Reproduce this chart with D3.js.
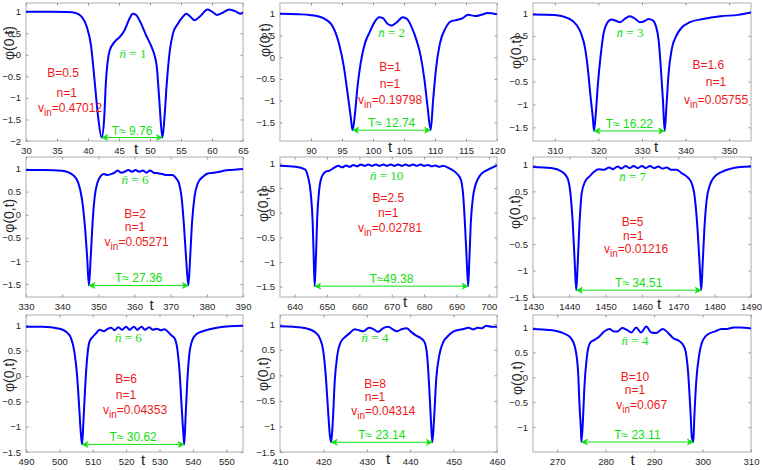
<!DOCTYPE html>
<html>
<head>
<meta charset="utf-8">
<script src="https://cdn.jsdelivr.net/npm/d3@7"></script>
<style>
body { margin: 0; background: #fff; }
text { font-family: "Liberation Sans", Arial, Helvetica, sans-serif; }
</style>
</head>
<body>
<script>
// phi(0,t), left to right, top to bottom
var t1 = [30, 34, 36.5, 38, 39, 39.8, 40.5, 41, 41.6, 42.2, 42.6, 42.9, 43.5, 44.3, 45.1, 45.9, 46.7, 47.2, 47.7, 48.6,
          49.4, 50.2, 50.7, 51.1, 51.5, 52.0, 52.3, 52.7, 53.2, 53.7, 54.5, 55.3, 55.85, 56.4, 57.2, 58, 59.3, 60.2, 60.8, 61.8,
          62.8, 63.9, 64.6, 65];
var phi1 = [1.0, 1.0, 0.99, 0.97, 0.88, 0.65, 0.2, -0.5, -1.4, -1.92, -1.5, -0.6, 0.1, 0.3, 0.41, 0.57, 0.84, 0.95, 0.93, 0.71,
            0.44, 0.2, 0.0, -0.28, -1.05, -1.92, -1.52, -0.67, 0.1, 0.49, 0.72, 0.88, 0.95, 0.9, 0.8, 0.88, 1.05, 0.98, 0.92, 0.98,
            1.05, 1.0, 0.95, 0.98];

var t2 = [85, 88, 90, 92, 93.5, 94.5, 95.3, 95.9, 96.4, 96.7, 97.1, 97.5, 98, 98.7, 99.5, 100.3, 101, 101.6, 102.3, 103,
          103.8, 104.8, 105.5, 106.3, 107, 107.7, 108.3, 108.8, 109.3, 109.7, 110.2, 110.8, 111.7, 112.5, 113.5, 114.5, 115.3, 116.5, 117.5, 118.5,
          120];
var phi2 = [1.0, 0.99, 0.97, 0.9, 0.71, 0.32, -0.22, -0.83, -1.37, -1.68, -1.29, -0.68, -0.14, 0.32, 0.59, 0.82, 0.92, 0.9, 0.78, 0.73,
            0.8, 0.92, 0.88, 0.67, 0.4, 0.02, -0.52, -1.14, -1.68, -0.98, -0.22, 0.32, 0.67, 0.82, 0.86, 0.9, 0.98, 0.95, 0.98, 1.02,
            0.99];

var t3 = [305, 310, 313, 315, 316, 317, 317.6, 318.2, 318.7, 319, 319.4, 319.9, 320.5, 321.2, 322, 323, 324, 325, 326, 327.2,
          328.5, 329.5, 330.5, 331.5, 332.5, 333.2, 333.8, 334.3, 334.8, 335.2, 335.6, 336.1, 336.8, 337.8, 339, 341, 344, 348, 352, 355];
var phi3 = [0.97, 0.96, 0.89, 0.74, 0.56, 0.2, -0.24, -0.83, -1.27, -1.58, -1.2, -0.54, 0.05, 0.56, 0.78, 0.86, 0.83, 0.8, 0.87, 0.93,
            0.87, 0.8, 0.82, 0.87, 0.84, 0.71, 0.42, -0.17, -0.9, -1.58, -1.05, -0.32, 0.2, 0.49, 0.67, 0.8, 0.87, 0.93, 0.96, 1.01];

var t4 = [330, 335, 340, 343, 344.5, 345.5, 346.3, 346.9, 347.4, 347.9, 348.4, 349, 349.7, 350.6, 351.5, 352.5, 353.5, 354.5, 355.3, 356.3,
          357.3, 358.3, 359.3, 360.3, 361.3, 362.3, 363.3, 364.3, 365.3, 366.5, 367.7, 369, 370.5, 371.5, 372.3, 373, 373.7, 374.3, 374.9, 375.4,
          375.9, 376.6, 377.5, 379, 380.5, 382, 383.5, 385, 387, 390];
var phi4 = [0.97, 0.97, 0.95, 0.86, 0.68, 0.32, -0.26, -0.91, -1.53, -0.91, -0.18, 0.39, 0.68, 0.83, 0.88, 0.86, 0.88, 0.91, 0.96, 0.91,
            0.93, 0.97, 0.93, 0.97, 0.93, 0.96, 0.91, 0.96, 0.91, 0.9, 0.88, 0.86, 0.86, 0.79, 0.68, 0.39, -0.26, -0.98, -1.53, -0.91,
            -0.18, 0.39, 0.68, 0.83, 0.9, 0.91, 0.93, 0.96, 0.97, 0.99];

var t5 = [635.5, 640.3, 643.2, 644.1, 645.0, 645.6, 645.9, 646.2, 646.6, 647.0, 647.6, 648.4, 649.5, 651.0, 652.4, 653.6, 654.7, 655.9, 657.0, 658.2,
          659.3, 660.5, 661.6, 662.8, 663.9, 665.1, 666.2, 667.4, 668.5, 669.7, 670.8, 672.0, 673.1, 674.3, 675.4, 676.6, 677.7, 678.9, 680.0, 681.2,
          682.3, 683.5, 684.6, 685.8, 687.5, 689.1, 690.3, 691.4, 692.1, 692.7, 693.2, 693.6, 694.0, 694.4, 695.1, 696.0, 697.3, 699.3, 701.2, 702.5];
var phi5 = [0.95, 0.93, 0.88, 0.74, 0.39, -0.22, -0.89, -1.49, -0.89, -0.08, 0.46, 0.73, 0.83, 0.86, 0.92, 0.95, 0.92, 0.96, 0.93, 0.97,
            0.94, 0.98, 0.95, 0.98, 0.95, 0.98, 0.95, 0.98, 0.95, 0.98, 0.95, 0.98, 0.95, 0.98, 0.95, 0.98, 0.95, 0.98, 0.95, 0.97,
            0.94, 0.96, 0.93, 0.95, 0.91, 0.85, 0.78, 0.66, 0.32, -0.35, -1.03, -1.49, -0.89, -0.22, 0.32, 0.59, 0.76, 0.86, 0.92, 0.96];

var t6 = [1430, 1435, 1438, 1439.5, 1440.3, 1441, 1441.5, 1441.9, 1442.3, 1442.8, 1443.4, 1444.3, 1445.5, 1446.8, 1448, 1449.5, 1451, 1452, 1453.3, 1454.3,
          1455.5, 1456.6, 1457.7, 1458.8, 1460, 1461, 1462.2, 1463.3, 1464.5, 1465.6, 1466.8, 1468, 1469.5, 1471, 1472.5, 1473.5, 1474.5, 1475.3, 1475.9, 1476.3,
          1476.7, 1477.2, 1477.8, 1478.7, 1480, 1482, 1484, 1487, 1490];
var phi6 = [0.96, 0.94, 0.87, 0.75, 0.46, -0.17, -0.87, -1.37, -0.87, -0.11, 0.46, 0.68, 0.78, 0.87, 0.92, 0.91, 0.95, 0.92, 0.97, 0.93,
            0.98, 0.94, 0.98, 0.94, 0.98, 0.94, 0.98, 0.94, 0.97, 0.93, 0.95, 0.91, 0.91, 0.84, 0.77, 0.68, 0.4, -0.23, -0.93, -1.37,
            -0.87, -0.17, 0.34, 0.62, 0.78, 0.87, 0.92, 0.96, 0.97];

var t7 = [490, 495, 500, 502, 503.5, 504.5, 505.3, 505.9, 506.4, 506.8, 507.2, 507.7, 508.3, 509, 510, 511, 512, 513.3, 514.3, 515.5,
          516.5, 517.7, 518.7, 520, 521, 522.3, 523.3, 524.6, 525.6, 526.9, 528, 529.2, 530.3, 531.5, 532.5, 533.5, 534.5, 535.3, 536, 536.6,
          537.1, 537.4, 537.8, 538.3, 538.9, 539.8, 541, 543, 545, 548, 551, 555];
var phi7 = [0.97, 0.97, 0.93, 0.87, 0.74, 0.47, 0.01, -0.58, -1.11, -1.35, -0.9, -0.25, 0.34, 0.67, 0.77, 0.84, 0.91, 0.88, 0.92, 0.95,
            0.9, 0.96, 0.91, 0.97, 0.91, 0.97, 0.91, 0.97, 0.91, 0.96, 0.91, 0.93, 0.9, 0.92, 0.87, 0.8, 0.74, 0.54, 0.08, -0.58,
            -1.11, -1.35, -0.81, -0.12, 0.41, 0.7, 0.82, 0.88, 0.92, 0.96, 0.98, 0.99];

var t8 = [410, 413, 416, 418, 419.2, 420, 420.6, 421.1, 421.5, 421.8, 422.2, 422.6, 423.2, 424, 425, 426, 427.2, 428.2, 429.2, 430.5,
          431.6, 432.6, 433.7, 434.9, 436, 436.9, 438, 439.2, 440.2, 441.3, 442.4, 443.3, 443.9, 444.4, 444.8, 445.1, 445.5, 446, 446.7, 447.6,
          448.5, 450, 452, 453.5, 454.5, 455.5, 456.5, 457.5, 458.7, 460];
var phi8 = [0.96, 0.95, 0.92, 0.85, 0.72, 0.46, -0.07, -0.72, -1.18, -1.31, -0.85, -0.13, 0.39, 0.65, 0.75, 0.82, 0.9, 0.88, 0.86, 0.93,
            0.9, 0.85, 0.92, 0.95, 0.9, 0.86, 0.9, 0.92, 0.85, 0.78, 0.73, 0.65, 0.39, -0.26, -0.92, -1.31, -0.85, -0.07, 0.39, 0.65,
            0.75, 0.86, 0.9, 0.93, 0.9, 0.93, 0.92, 0.97, 0.95, 0.95];

var t9 = [265, 268.3, 271.1, 272.8, 273.7, 274.3, 274.6, 274.9, 275.0, 275.3, 275.6, 276.1, 276.8, 277.7, 278.7, 279.7, 280.8, 281.7, 282.5, 283.4,
          284.4, 285.3, 286.3, 287.3, 288.4, 289.4, 290.4, 291.8, 292.9, 293.9, 295.3, 296.3, 297, 297.5, 297.8, 298.1, 298.3, 298.7, 299.3, 300.1,
          301.2, 302.6, 303.9, 305, 306.4, 307.7, 310];
var phi9 = [0.97, 0.95, 0.89, 0.79, 0.59, 0.12, -0.55, -1.08, -1.3, -0.88, -0.21, 0.39, 0.69, 0.75, 0.82, 0.92, 0.97, 0.92, 0.92, 0.99,
            0.95, 0.9, 1.0, 0.9, 1.02, 0.9, 0.89, 0.97, 0.89, 0.79, 0.72, 0.59, 0.12, -0.68, -1.21, -1.3, -0.81, -0.08, 0.45, 0.75,
            0.87, 0.92, 0.97, 0.97, 1.0, 1.0, 0.98];

var tSeries = [t1, t2, t3, t4, t5, t6, t7, t8, t9];
var phiSeries = [phi1, phi2, phi3, phi4, phi5, phi6, phi7, phi8, phi9];

// axis limits and tick labels
var tRange = [[30, 65], [85, 120], [305, 355], [330, 390], [635.5, 702.5], [1430, 1490], [490, 555], [410, 460], [265, 310]];
var phiRange = [[-2, 1.2], [-1.93, 1.25], [-1.8, 1.22], [-1.78, 1.25], [-1.71, 1.13], [-1.5, 1.15], [-1.5, 1.2], [-1.5, 1.18], [-1.5, 1.25]];
var tTicks = [[30, 35, 40, 45, 50, 55, 60, 65], [90, 95, 100, 105, 110, 115, 120], [310, 320, 330, 340, 350],
              [330, 340, 350, 360, 370, 380, 390], [640, 650, 660, 670, 680, 690, 700], [1430, 1440, 1450, 1460, 1470, 1480, 1490],
              [490, 500, 510, 520, 530, 540, 550], [410, 420, 430, 440, 450, 460], [270, 280, 290, 300, 310]];
var phiTicksA = [-2, -1.5, -1, -0.5, 0, 0.5, 1];
var phiTicksB = [-1.5, -1, -0.5, 0, 0.5, 1];
var phiTicksC = [-1, -0.5, 0, 0.5, 1];
var phiTicks = [phiTicksA, phiTicksB, phiTicksB, phiTicksB, phiTicksB, phiTicksB, phiTicksB, phiTicksB, phiTicksC];

// annotations
var bVals = ['0.5', '1', '1.6', '2', '2.5', '5', '6', '8', '10'];
var nVals = [1, 1, 1, 1, 1, 1, 1, 1, 1];
var vinVals = ['0.47012', '0.19798', '0.05755', '0.05271', '0.02781', '0.01216', '0.04353', '0.04314', '0.067'];
var nbarVals = [1, 2, 3, 6, 10, 7, 6, 4, 4];
var periodLabels = ['T\u2248 9.76', 'T\u2248 12.74', 'T\u2248 16.22', 'T\u2248 27.36', 'T\u224849.38',
                    'T\u2248 34.51', 'T\u2248 30.62', 'T\u2248 23.14', 'T\u2248 23.11'];

// page layout (pixels)
var W = 762, H = 470;
var cols = [[26, 243], [280, 497], [533, 751]];
var rows = [[3, 141], [157, 297], [315, 452]];
// offsets from panel left/top: red lines, n-bar label, ylabel; xlabel is from left/bottom
var place = [
  { red: [[37, 70], [40.7, 89.7], [44, 105]], nbar: [107, 50], ylab: [-16.7, 40], xlab: [110, 8] },
  { red: [[110, 63.7], [110, 80.3], [110, 97]], nbar: [111.7, 29.7], ylab: [-15, 37], xlab: [110, 5.7] },
  { red: [[175.3, 62], [183, 78.7], [183, 96.3]], nbar: [97, 29.7], ylab: [-17, 49], xlab: [123, 5.7] },
  { red: [[109, 56.3], [109, 69.7], [110.7, 84.7]], nbar: [109, 22.3], ylab: [-16.7, 58.7], xlab: [125.7, 8] },
  { red: [[108.3, 40.7], [108.3, 55.7], [110, 70.7]], nbar: [106.7, 18], ylab: [-17.3, 48], xlab: [125, 4.7] },
  { red: [[99.7, 64.7], [100.3, 79], [103, 92]], nbar: [99.7, 19.7], ylab: [-18, 55], xlab: [126, 7] },
  { red: [[100, 64], [100, 79.3], [109, 95]], nbar: [102.3, 22.3], ylab: [-16.7, 60], xlab: [117, 8] },
  { red: [[95, 69], [95, 81.7], [103.3, 96]], nbar: [95, 22.3], ylab: [-17.3, 59], xlab: [108, 7] },
  { red: [[102, 61.7], [102, 75], [108.7, 90]], nbar: [102, 25], ylab: [-16.3, 63], xlab: [99.7, 8] }
];

var green = '#11e011', red = '#f01818', boxColor = '#9a9a9a', tickText = '#262626';

var svg = d3.select('body').append('svg')
    .attr('width', W).attr('height', H)
    .style('background', '#fff');

svg.append('defs').selectAll('clipPath')
    .data(d3.range(9))
    .enter().append('clipPath')
    .attr('id', function(d) { return 'clip' + d; })
    .append('rect')
    .attr('x', function(d) { return cols[d % 3][0]; })
    .attr('y', function(d) { return rows[Math.floor(d / 3)][0]; })
    .attr('width', function(d) { return cols[d % 3][1] - cols[d % 3][0]; })
    .attr('height', function(d) { var r = rows[Math.floor(d / 3)]; return r[1] - r[0]; });

function styleAxis(sel, showText) {
  sel.select('.domain').remove();
  sel.selectAll('line').attr('stroke', boxColor);
  sel.selectAll('text')
    .attr('fill', tickText)
    .style('font-size', '9.5px')
    .style('display', showText ? null : 'none');
}

d3.range(9).forEach(function(i) {
  var c = cols[i % 3], r = rows[Math.floor(i / 3)], p = place[i];
  var left = c[0], right = c[1], top = r[0], bottom = r[1];

  var x = d3.scaleLinear().domain(tRange[i]).range([left, right]);
  var y = d3.scaleLinear().domain(phiRange[i]).range([bottom, top]);
  var pts = d3.zip(tSeries[i], phiSeries[i]);

  var g = svg.append('g');

  g.append('rect')
    .attr('x', left).attr('y', top)
    .attr('width', right - left).attr('height', bottom - top)
    .attr('fill', '#fff').attr('stroke', boxColor).attr('stroke-width', 0.8);

  g.append('g').attr('transform', 'translate(0,' + bottom + ')')
    .call(d3.axisBottom(x).tickValues(tTicks[i]).tickSizeInner(-2.5).tickSizeOuter(0).tickPadding(6).tickFormat(d3.format('')))
    .call(styleAxis, true);
  g.append('g').attr('transform', 'translate(0,' + top + ')')
    .call(d3.axisTop(x).tickValues(tTicks[i]).tickSizeInner(-2.5).tickSizeOuter(0))
    .call(styleAxis, false);
  g.append('g').attr('transform', 'translate(' + left + ',0)')
    .call(d3.axisLeft(y).tickValues(phiTicks[i]).tickSizeInner(-2.5).tickSizeOuter(0).tickPadding(5).tickFormat(d3.format('')))
    .call(styleAxis, true);
  g.append('g').attr('transform', 'translate(' + right + ',0)')
    .call(d3.axisRight(y).tickValues(phiTicks[i]).tickSizeInner(-2.5).tickSizeOuter(0))
    .call(styleAxis, false);

  // curve
  g.append('path')
    .datum(pts)
    .attr('clip-path', 'url(#clip' + i + ')')
    .attr('fill', 'none')
    .attr('stroke', '#0000ff')
    .attr('stroke-width', 2)
    .attr('stroke-linejoin', 'round')
    .attr('d', d3.line()
      .x(function(d) { return x(d[0]); })
      .y(function(d) { return y(d[1]); })
      .curve(d3.curveMonotoneX));

  // period arrow between the two dips
  var mid = (tRange[i][0] + tRange[i][1]) / 2;
  var dipL = d3.least(pts.filter(function(d) { return d[0] < mid; }), function(d) { return d[1]; });
  var dipR = d3.least(pts.filter(function(d) { return d[0] >= mid; }), function(d) { return d[1]; });
  var x1 = x(dipL[0]), x2 = x(dipR[0]), ya = y(dipL[1]);
  g.append('line')
    .attr('x1', x1 + 2).attr('x2', x2 - 2).attr('y1', ya).attr('y2', ya)
    .attr('stroke', green).attr('stroke-width', 1);
  g.append('path')
    .attr('d', 'M' + x1 + ',' + ya + 'l6,-3l-1.5,3l1.5,3z' +
               'M' + x2 + ',' + ya + 'l-6,-3l1.5,3l-1.5,3z')
    .attr('fill', green).attr('stroke', green).attr('stroke-width', 0.6);
  g.append('text')
    .attr('x', (x1 + x2) / 2).attr('y', ya - 3)
    .attr('text-anchor', 'middle')
    .attr('fill', green)
    .style('font-size', '12px')
    .text(periodLabels[i]);

  // n-bar label
  var nb = g.append('text')
    .attr('x', left + p.nbar[0]).attr('y', top + p.nbar[1] + 4.5)
    .attr('text-anchor', 'middle')
    .attr('fill', green)
    .style('font-family', '"Liberation Serif", "DejaVu Serif", serif')
    .style('font-size', '13px');
  nb.append('tspan').style('font-style', 'italic').text('n\u0304');
  nb.append('tspan').text(' = ' + nbarVals[i]);

  // red parameter text
  g.append('text')
    .attr('x', left + p.red[0][0]).attr('y', top + p.red[0][1] + 4.3)
    .attr('text-anchor', 'middle').attr('fill', red).style('font-size', '12px')
    .text('B=' + bVals[i]);
  g.append('text')
    .attr('x', left + p.red[1][0]).attr('y', top + p.red[1][1] + 4.3)
    .attr('text-anchor', 'middle').attr('fill', red).style('font-size', '12px')
    .text('n=' + nVals[i]);
  var vt = g.append('text')
    .attr('x', left + p.red[2][0]).attr('y', top + p.red[2][1] + 4.3)
    .attr('text-anchor', 'middle').attr('fill', red).style('font-size', '12px');
  vt.append('tspan').text('v');
  vt.append('tspan').attr('dy', 4).style('font-size', '10px').text('in');
  vt.append('tspan').attr('dy', -4).text('=' + vinVals[i]);

  // axis titles
  g.append('text')
    .attr('transform', 'translate(' + (left + p.ylab[0]) + ',' + (top + p.ylab[1]) + ') rotate(-90)')
    .attr('text-anchor', 'middle')
    .attr('dominant-baseline', 'central')
    .attr('fill', tickText)
    .style('font-size', '14px')
    .text('\u03c6(0,t)');
  g.append('text')
    .attr('x', left + p.xlab[0]).attr('y', bottom + p.xlab[1] + 5)
    .attr('text-anchor', 'middle')
    .attr('fill', tickText)
    .style('font-size', '15px')
    .text('t');
});
</script>
</body>
</html>
